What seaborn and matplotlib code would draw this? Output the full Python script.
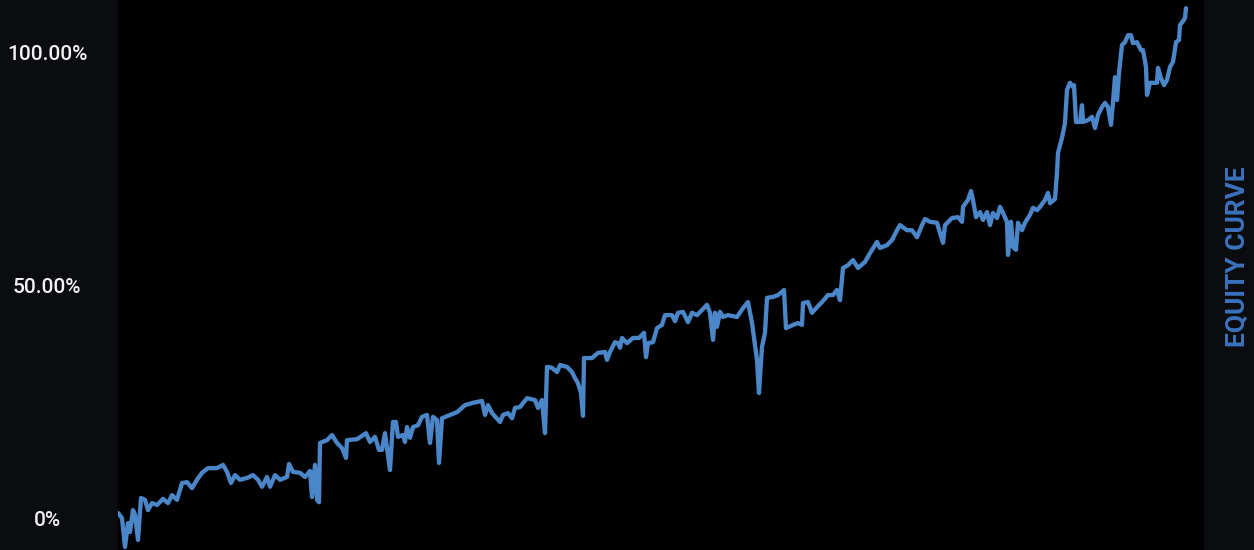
import matplotlib
matplotlib.use("Agg")
import matplotlib.pyplot as plt
import seaborn as sns
import pandas as pd

# trade index (x) and cumulative return in percent (y)
trade = [0, 4, 7, 10, 12, 15, 17, 20, 23, 27, 30, 34, 39, 45, 50, 54, 59, 64, 69, 74,
         79, 84, 90, 99, 105, 109, 113, 117, 122, 129, 135, 140, 144, 149, 152, 157, 162, 169, 171, 175,
         182, 187, 192, 194, 197, 199, 201, 202, 209, 214, 219, 224, 228, 229, 239, 248, 252, 257, 261, 264,
         267, 272, 275, 278, 280, 285, 287, 289, 292, 295, 300, 304, 309, 312, 315, 319, 321, 324, 332, 339,
         347, 355, 364, 367, 370, 374, 382, 385, 390, 394, 397, 402, 409, 417, 420, 424, 427, 429, 434, 439,
         442, 449, 454, 457, 460, 463, 465, 466, 474, 480, 487, 489, 492, 497, 500, 502, 504, 509, 515, 521,
         526, 528, 530, 535, 539, 544, 547, 554, 557, 560, 565, 570, 574, 579, 584, 589, 592, 595, 597, 599,
         602, 605, 610, 619, 625, 630, 634, 639, 641, 644, 647, 649, 655, 660, 664, 666, 668, 675, 680, 684,
         685, 690, 694, 699, 704, 710, 715, 719, 722, 725, 730, 735, 740, 747, 752, 759, 762, 769, 774, 779,
         782, 789, 794, 799, 804, 807, 812, 819, 822, 825, 827, 834, 840, 844, 845, 850, 853, 855, 858, 862,
         865, 869, 872, 875, 879, 882, 885, 889, 890, 893, 895, 898, 900, 904, 907, 912, 915, 919, 922, 927,
         930, 932, 937, 939, 940, 944, 947, 949, 952, 955, 956, 958, 962, 964, 965, 970, 974, 977, 980, 984,
         987, 990, 993, 995, 997, 999, 1001, 1004, 1007, 1010, 1013, 1015, 1019, 1023, 1025, 1028, 1029, 1032, 1039, 1040,
         1043, 1046, 1049, 1052, 1055, 1058, 1061, 1062, 1065, 1067, 1068]

equity_pct = [1.2, 0.1, -6.1, -1.0, -2.9, 1.8, 0.8, -4.6, 4.4, 4.0, 1.8, 3.3, 2.9, 4.2, 3.3, 5.0, 4.0, 7.6, 7.8, 6.5,
              8.3, 9.8, 10.8, 10.8, 11.5, 10.0, 7.6, 9.3, 8.3, 8.7, 9.3, 8.3, 6.8, 8.9, 6.8, 9.3, 8.3, 8.9, 11.7, 10.0,
              9.8, 8.9, 10.2, 4.6, 11.5, 4.0, 3.5, 16.2, 16.8, 17.9, 16.2, 15.1, 13.0, 16.8, 17.0, 18.3, 16.4, 17.5, 14.7, 14.7,
              18.3, 10.4, 20.7, 20.7, 17.5, 17.9, 16.4, 19.6, 17.3, 19.6, 20.0, 21.8, 22.2, 16.2, 21.8, 21.1, 11.9, 21.5, 22.2, 22.8,
              24.3, 24.8, 25.2, 22.2, 24.3, 22.6, 20.7, 22.2, 22.6, 21.5, 23.7, 23.9, 25.8, 25.4, 23.7, 25.4, 18.3, 32.5, 32.3, 31.4,
              32.9, 32.5, 31.4, 30.1, 29.0, 26.9, 22.0, 34.4, 34.4, 35.5, 35.7, 34.0, 35.7, 37.8, 37.6, 36.6, 38.7, 37.6, 38.7, 38.7,
              39.8, 34.6, 37.6, 37.8, 40.8, 41.5, 43.6, 43.6, 42.3, 44.1, 44.3, 42.1, 44.1, 43.6, 44.7, 45.8, 44.1, 38.3, 44.1, 41.1,
              44.3, 43.2, 43.6, 43.2, 45.1, 46.4, 41.9, 34.0, 26.9, 36.8, 39.8, 47.3, 47.5, 47.9, 48.6, 49.0, 40.8, 41.5, 41.9, 41.5,
              46.2, 46.4, 44.1, 45.3, 46.4, 47.9, 47.9, 49.0, 46.8, 53.7, 54.3, 55.4, 53.7, 55.0, 56.9, 59.3, 58.0, 58.6, 59.7, 61.8,
              62.9, 61.8, 61.8, 60.3, 62.9, 64.2, 63.6, 63.4, 61.2, 59.1, 62.9, 64.4, 64.6, 63.6, 66.8, 68.3, 70.2, 68.3, 64.6, 65.7,
              64.0, 65.7, 62.9, 65.5, 64.4, 66.8, 65.5, 63.6, 56.5, 63.6, 58.2, 57.6, 63.4, 61.8, 63.4, 65.1, 66.6, 66.1, 66.8, 68.3,
              69.8, 67.6, 68.5, 74.1, 78.4, 81.6, 84.8, 91.9, 93.4, 92.5, 92.9, 85.0, 85.0, 88.6, 85.0, 85.4, 86.1, 83.7, 86.5, 88.2,
              89.1, 88.2, 84.4, 89.3, 94.6, 89.7, 95.5, 101.5, 102.1, 103.6, 103.6, 101.9, 102.1, 100.4, 100.4, 96.8, 90.8, 93.4, 93.4, 96.6,
              94.4, 92.9, 94.0, 96.8, 97.9, 102.1, 102.6, 105.8, 106.6, 107.3, 109.4]

y_ticks = [0, 50, 100]
y_tick_labels = ["0%", "50.00%", "100.00%"]
axis_title = "EQUITY CURVE"

df = pd.DataFrame({"trade": trade, "equity": equity_pct})

sns.set_theme(style="dark")
plt.rcParams["font.family"] = ["Roboto", "DejaVu Sans"]

outer_bg = "#0b0c10"
fig = plt.figure(figsize=(12.54, 5.5), dpi=100, facecolor=outer_bg)
ax = fig.add_axes([118 / 1254, 0, (1204 - 118) / 1254, 1])
ax.set_facecolor("#000000")

sns.lineplot(data=df, x="trade", y="equity", ax=ax, color="#4a86c8",
             linewidth=3.1, sort=False, estimator=None)

ax.set_xlim(0, 1086)
ax.set_ylim(-6.75, 111.15)
ax.set_xticks([])
ax.set_yticks(y_ticks)
ax.set_yticklabels(y_tick_labels)
ax.tick_params(axis="y", length=0, pad=51, labelsize=15, labelcolor="#f2f2f2")
for lbl in ax.get_yticklabels():
    lbl.set_horizontalalignment("center")
    lbl.set_fontweight(500)
ax.set_xlabel("")
ax.set_ylabel("")
ax.grid(False)
for s in ax.spines.values():
    s.set_visible(False)

fig.text(1238 / 1254, 1 - 257 / 550, axis_title, rotation=90, ha="center", va="center",
         fontsize=19, fontweight="bold", color="#3b72bd", family=["Roboto", "DejaVu Sans"])

fig.savefig("out.png", dpi=100, facecolor=outer_bg)
